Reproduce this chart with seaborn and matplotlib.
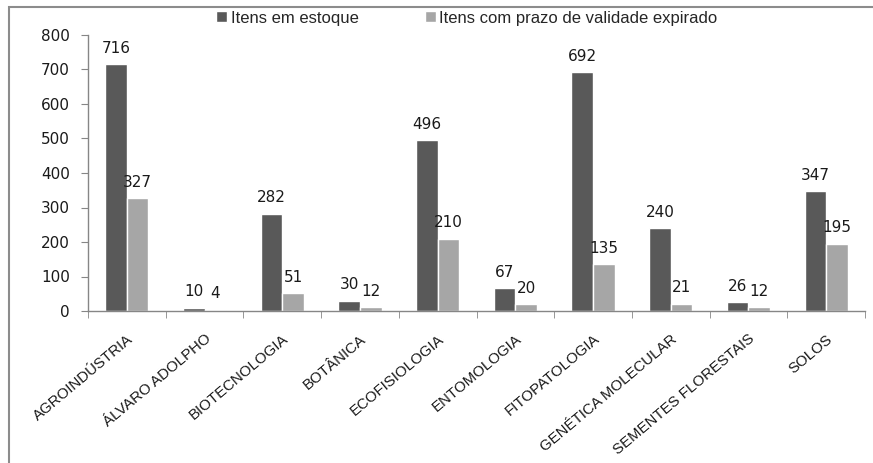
import pandas as pd
import matplotlib
matplotlib.use("Agg")
import matplotlib.pyplot as plt
import seaborn as sns
from matplotlib.patches import Rectangle
from matplotlib.ticker import FixedLocator

# Data
categorias = ["AGROINDÚSTRIA", "ÁLVARO ADOLPHO", "BIOTECNOLOGIA", "BOTÂNICA",
              "ECOFISIOLOGIA", "ENTOMOLOGIA", "FITOPATOLOGIA",
              "GENÉTICA MOLECULAR", "SEMENTES FLORESTAIS", "SOLOS"]
estoque = [716, 10, 282, 30, 496, 67, 692, 240, 26, 347]
expirado = [327, 4, 51, 12, 210, 20, 135, 21, 12, 195]
series = ["Itens em estoque", "Itens com prazo de validade expirado"]
yticks = [0, 100, 200, 300, 400, 500, 600, 700, 800]

df = pd.DataFrame({
    "categoria": categorias * 2,
    "valor": estoque + expirado,
    "serie": [series[0]] * len(categorias) + [series[1]] * len(categorias),
})

sns.set_style("white")
plt.rcParams["font.family"] = ["DejaVu Sans"]
label_font = ["Liberation Sans Narrow", "Liberation Sans", "DejaVu Sans"]
axis_col = "#868686"

fig = plt.figure(figsize=(8.73, 4.63), dpi=100)
ax = fig.add_axes([88 / 873, 1 - 311 / 463, 777 / 873, 276 / 463])

# outer chart border
fig.patches.append(Rectangle((9 / 873, -0.1), 1.2, 1 - 6.5 / 463 + 0.1,
                             transform=fig.transFigure, fill=False,
                             edgecolor="#8c8c8c", linewidth=1.5))

sns.barplot(data=df, x="categoria", y="valor", hue="serie",
            palette=["#595959", "#a6a6a6"], width=0.555, gap=0,
            saturation=1, ax=ax, legend=True)

# value labels
for cont in ax.containers:
    ax.bar_label(cont, padding=6, fontsize=11, color="#1a1a1a")

ax.set_ylim(0, 800)
ax.set_xlim(-0.5, len(categorias) - 0.5)
ax.set_yticks(yticks)
ax.set_xlabel("")
ax.set_ylabel("")

for s in ["top", "right"]:
    ax.spines[s].set_visible(False)
for s in ["left", "bottom"]:
    ax.spines[s].set_color(axis_col)
    ax.spines[s].set_linewidth(1)

ax.tick_params(axis="y", length=5, color=axis_col, pad=8, labelsize=11,
               left=True, labelcolor="#1a1a1a")
ax.tick_params(axis="x", which="major", length=0, pad=15)
ax.xaxis.set_minor_locator(FixedLocator([i - 0.5 for i in range(len(categorias) + 1)]))
ax.tick_params(axis="x", which="minor", length=5, color=axis_col, bottom=True)

ax.set_xticks(range(len(categorias)))
ax.set_xticklabels(categorias, rotation=40, ha="right", va="top",
                   rotation_mode="anchor",
                   fontsize=10.8, family=label_font, color="#1a1a1a")

handles, labels = ax.get_legend_handles_labels()
ax.get_legend().remove()
fig.legend(handles, labels, loc="center", bbox_to_anchor=(467 / 873, 1 - 18 / 463),
           ncol=2, frameon=False, handlelength=0.65, handleheight=0.65,
           handletextpad=0.2, columnspacing=4.0,
           prop={"family": label_font, "size": 12})

fig.savefig("out.png", dpi=100)
